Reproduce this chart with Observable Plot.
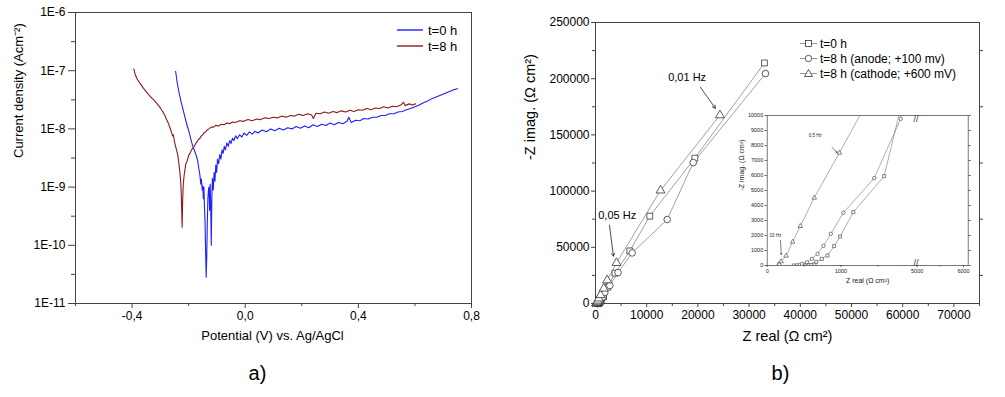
<!DOCTYPE html>
<html><head><meta charset="utf-8">
<script src="https://cdn.jsdelivr.net/npm/d3@7"></script>
<script src="https://cdn.jsdelivr.net/npm/@observablehq/plot@0.6"></script>
<style>
body{margin:0;background:#fff;font-family:"Liberation Sans",Arial,sans-serif;}
#wrap{position:relative;width:1005px;height:397px;overflow:hidden;background:#fff;}
.leg{position:absolute;font-family:"Liberation Sans",Arial,sans-serif;color:#000;}
.leg .row{display:flex;align-items:center;white-space:nowrap;}
</style></head><body><div id="wrap"></div>
<script>
// ---------- Panel a: polarization curves ----------
const seriesA = ["t=0 h", "t=8 h"];
const colorsA = ["#1f1fff", "#8b1a1a"];
const potentialT0 = [-0.246,-0.240,-0.233,-0.226,-0.219,-0.212,-0.205,-0.198,-0.191,-0.185,-0.179,-0.173,-0.168,-0.164,-0.160,-0.157,-0.155,-0.152,-0.150,-0.148,-0.146,-0.144,-0.142,-0.140,-0.138,-0.136,-0.134,-0.132,-0.130,-0.128,-0.126,-0.124,-0.122,-0.120,-0.118,-0.116,-0.113,-0.110,-0.107,-0.104,-0.101,-0.098,-0.094,-0.090,-0.086,-0.082,-0.078,-0.074,-0.070,-0.065,-0.060,-0.055,-0.050,-0.045,-0.040,-0.034,-0.028,-0.020,-0.012,-0.004,0.005,0.015,0.025,0.035,0.045,0.06,0.075,0.09,0.105,0.12,0.135,0.15,0.165,0.18,0.195,0.21,0.225,0.24,0.255,0.27,0.285,0.30,0.315,0.33,0.345,0.36,0.366,0.375,0.39,0.405,0.42,0.435,0.45,0.465,0.48,0.495,0.51,0.525,0.54,0.555,0.57,0.585,0.60,0.615,0.63,0.645,0.66,0.675,0.69,0.705,0.72,0.735,0.751];
const logCurrentT0 = [-7.01,-7.22,-7.40,-7.55,-7.68,-7.82,-7.95,-8.06,-8.20,-8.30,-8.38,-8.46,-8.55,-8.68,-8.80,-8.95,-8.86,-9.05,-8.98,-9.20,-9.00,-9.35,-9.60,-10.1,-10.55,-10.2,-9.6,-9.2,-9.05,-9.0,-9.4,-8.95,-9.3,-10.0,-9.2,-8.85,-9.05,-8.75,-8.9,-8.62,-8.75,-8.52,-8.6,-8.44,-8.52,-8.36,-8.42,-8.30,-8.36,-8.24,-8.30,-8.20,-8.25,-8.16,-8.20,-8.12,-8.17,-8.10,-8.14,-8.07,-8.11,-8.05,-8.09,-8.04,-8.07,-8.02,-8.05,-8.00,-8.03,-7.99,-8.02,-7.98,-8.00,-7.96,-7.99,-7.95,-7.98,-7.93,-7.96,-7.92,-7.94,-7.90,-7.93,-7.89,-7.91,-7.87,-7.80,-7.89,-7.85,-7.86,-7.82,-7.83,-7.80,-7.80,-7.77,-7.77,-7.74,-7.74,-7.71,-7.70,-7.67,-7.65,-7.62,-7.59,-7.55,-7.52,-7.48,-7.45,-7.42,-7.39,-7.36,-7.33,-7.31];
const potentialT8 = [-0.394,-0.388,-0.380,-0.370,-0.360,-0.350,-0.340,-0.330,-0.320,-0.310,-0.300,-0.292,-0.285,-0.278,-0.272,-0.266,-0.261,-0.257,-0.254,-0.250,-0.246,-0.242,-0.238,-0.235,-0.232,-0.229,-0.227,-0.225,-0.223,-0.221,-0.219,-0.216,-0.213,-0.210,-0.205,-0.200,-0.195,-0.190,-0.185,-0.180,-0.175,-0.170,-0.165,-0.160,-0.155,-0.150,-0.145,-0.140,-0.135,-0.128,-0.120,-0.112,-0.104,-0.095,-0.085,-0.075,-0.065,-0.055,-0.045,-0.035,-0.020,-0.005,0.010,0.025,0.040,0.055,0.070,0.085,0.10,0.115,0.13,0.145,0.16,0.175,0.19,0.205,0.22,0.235,0.241,0.25,0.265,0.28,0.295,0.31,0.325,0.34,0.355,0.37,0.385,0.40,0.415,0.43,0.445,0.46,0.475,0.49,0.505,0.52,0.535,0.55,0.56,0.565,0.58,0.59,0.602];
const logCurrentT8 = [-6.97,-7.08,-7.16,-7.23,-7.30,-7.36,-7.42,-7.47,-7.52,-7.58,-7.64,-7.70,-7.76,-7.84,-7.90,-7.98,-8.05,-8.12,-8.10,-8.22,-8.30,-8.38,-8.46,-8.58,-8.70,-8.85,-9.0,-9.3,-9.69,-9.2,-8.95,-8.80,-8.70,-8.60,-8.55,-8.45,-8.42,-8.36,-8.33,-8.30,-8.25,-8.22,-8.18,-8.16,-8.12,-8.10,-8.06,-8.05,-8.02,-8.00,-7.97,-7.97,-7.94,-7.95,-7.92,-7.93,-7.90,-7.91,-7.88,-7.89,-7.86,-7.87,-7.84,-7.86,-7.83,-7.84,-7.81,-7.82,-7.80,-7.81,-7.78,-7.80,-7.77,-7.78,-7.75,-7.77,-7.74,-7.76,-7.82,-7.73,-7.74,-7.71,-7.73,-7.70,-7.72,-7.69,-7.71,-7.68,-7.70,-7.67,-7.68,-7.65,-7.67,-7.64,-7.65,-7.62,-7.64,-7.61,-7.62,-7.59,-7.54,-7.60,-7.57,-7.59,-7.57];
const xTicksA = [-0.4, 0, 0.4, 0.8];
const xMinorA = [-0.6, -0.2, 0.2, 0.6];
const yTicksA = [1e-11, 1e-10, 1e-9, 1e-8, 1e-7, 1e-6];
const yMinorA = [3.16e-11, 3.16e-10, 3.16e-9, 3.16e-8, 3.16e-7];
const xTitleA = "Potential (V) vs. Ag/AgCl";
const yTitleA = "Current density (Acm⁻²)";

// ---------- Panel b: Nyquist plots ----------
const seriesB = ["t=0 h", "t=8 h (anode; +100 mv)", "t=8 h (cathode; +600 mV)"];
const symbolsB = ["square", "circle", "triangle"];
const zRealT0 = [520,560,600,640,664,740,816,906,987,1166,1583,2400,3800,6700,10600,19400,33000];
const zImagT0 = [15,25,40,80,244,444,667,1289,1933,3556,5956,14500,27000,46800,77700,129300,214000];
const zRealAnode = [360,400,440,471,538,605,682,762,861,1031,1448,1807,2800,4400,7160,14000,19100,33200];
const zImagAnode = [10,20,40,111,222,444,778,1311,2111,3511,5822,9778,16000,27500,45000,74700,125400,204600];
const zRealCathode = [150,165,188,256,345,448,637,978,1620,2280,4100,12700,24300];
const zImagCathode = [20,80,267,644,1578,2622,4511,7511,13300,20700,36100,100600,167500];
const xTicksB = [0,10000,20000,30000,40000,50000,60000,70000];
const xMinorB = [5000,15000,25000,35000,45000,55000,65000,75000];
const yTicksB = [0,50000,100000,150000,200000,250000];
const yMinorB = [25000,75000,125000,175000,225000];
const notesB = [
  {label: "0,01 Hz", x: 17900, y: 201000, x1: 20500, y1: 192400, x2: 23400, y2: 173700, dash: "none"},
  {label: "0,05 Hz", x: 4240, y: 78600, x1: 2730, y1: 69700, x2: 3500, y2: 42100, dash: "3,2"}
];
const xTitleB = "Z real (Ω cm²)";
const yTitleB = "-Z imag. (Ω cm²)";
// inset (broken x axis: 0–2000 | 5000–6100)
const insetBreakFrom = 2000, insetBreakTo = 5000, insetXMax = 6100;
const insetXTicks = [0, 1000, 5000, 6000];
const insetXMinor = [500, 1500, 5500];
const insetYTicks = [0,1000,2000,3000,4000,5000,6000,7000,8000,9000,10000];
const insetBreakMark = [3500];
const notesInset = [
  {label: "0,5 Hz", x: 650, y: 8667, x1: 880, y1: 7870, x2: 945, y2: 7530},
  {label: "10 Hz", x: 112, y: 2000, x1: 180, y1: 1670, x2: 190, y2: 730}
];

const FONT = "Liberation Sans, Arial, sans-serif";
const wrap = document.getElementById("wrap");
function place(el, left, top) {
  el.style.position = "absolute"; el.style.left = left + "px"; el.style.top = top + "px";
  wrap.appendChild(el);
}
const fmtA = d => (d < 0 ? "-" : "") + Math.abs(d).toFixed(1).replace(".", ",");

const dataA = [
  ...potentialT0.map((e, i) => ({E: e, I: 10 ** logCurrentT0[i], s: seriesA[0]})),
  ...potentialT8.map((e, i) => ({E: e, I: 10 ** logCurrentT8[i], s: seriesA[1]}))
];

const chartA = Plot.plot({
  width: 505, height: 397, marginTop: 12, marginLeft: 75, marginRight: 34, marginBottom: 94,
  style: {fontFamily: FONT, fontSize: "12px", background: "transparent", color: "#000", overflow: "visible"},
  x: {domain: [-0.6, 0.8]},
  y: {type: "log", domain: [1e-11, 1e-6]},
  color: {domain: seriesA, range: colorsA},
  marks: [
    Plot.frame({stroke: "#444"}),
    Plot.axisX({ticks: xTicksA, tickSize: 5, tickPadding: 3, tickFormat: fmtA, label: null, stroke: "#444"}),
    Plot.axisX({ticks: xMinorA, tickSize: 3, tickFormat: () => "", label: null, stroke: "#444"}),
    Plot.axisY({ticks: yTicksA, tickSize: 7, tickPadding: 3, tickFormat: d => "1E" + Math.round(Math.log10(d)), label: null, stroke: "#444"}),
    Plot.axisY({ticks: yMinorA, tickSize: 4, tickFormat: () => "", label: null, stroke: "#444"}),
    Plot.line(dataA, {x: "E", y: "I", z: "s", stroke: "s", strokeWidth: 1.1}),
    Plot.text([xTitleA], {frameAnchor: "bottom", dy: 36, dx: -1, fontSize: 13}),
    Plot.text([yTitleA], {frameAnchor: "left", dx: -57, rotate: -90, fontSize: 13}),
    Plot.text(["a)"], {frameAnchor: "bottom", dy: 76, dx: -16, fontSize: 20})
  ]
});
place(chartA, 0, 0);

const dataB = [
  ...zRealT0.map((x, i) => ({x, y: zImagT0[i], s: seriesB[0]})),
  ...zRealAnode.map((x, i) => ({x, y: zImagAnode[i], s: seriesB[1]})),
  ...zRealCathode.map((x, i) => ({x, y: zImagCathode[i], s: seriesB[2]}))
];

const chartB = Plot.plot({
  width: 505, height: 397, marginTop: 22, marginLeft: 95, marginRight: 26, marginBottom: 94,
  style: {fontFamily: FONT, fontSize: "12px", background: "transparent", color: "#000", overflow: "visible"},
  x: {domain: [0, 75000]},
  y: {domain: [0, 250000]},
  symbol: {domain: seriesB, range: symbolsB},
  marks: [
    Plot.frame({stroke: "#444"}),
    Plot.axisX({ticks: xTicksB, tickSize: 4, tickPadding: 3, tickFormat: d => String(d), label: null, stroke: "#444"}),
    Plot.axisX({ticks: xMinorB, tickSize: 3, tickFormat: () => "", label: null, stroke: "#444"}),
    Plot.axisY({ticks: yTicksB, tickSize: 4, tickPadding: 2, tickFormat: d => String(d), label: null, stroke: "#444"}),
    Plot.axisY({ticks: yMinorB, tickSize: 3, tickFormat: () => "", label: null, stroke: "#444"}),
    Plot.axisY({anchor: "right", ticks: yMinorB, tickSize: 3, tickFormat: () => "", label: null, stroke: "#444"}),
    Plot.line(dataB, {x: "x", y: "y", z: "s", stroke: "#777", strokeWidth: 0.7}),
    Plot.dot(dataB, {x: "x", y: "y", symbol: "s", r: 3.3, stroke: "#333", fill: "white", strokeWidth: 0.8}),
    Plot.arrow(notesB, {x1: "x1", y1: "y1", x2: "x2", y2: "y2", stroke: "#222", strokeWidth: 0.8, headLength: 6, strokeDasharray: "dash"}),
    Plot.text(notesB, {x: "x", y: "y", text: "label", fontSize: 11}),
    Plot.text([xTitleB], {frameAnchor: "bottom", dy: 37, fontSize: 14.5}),
    Plot.text([yTitleB], {frameAnchor: "left", dx: -65, dy: -3, rotate: -90, fontSize: 14.5}),
    Plot.text(["b)"], {frameAnchor: "bottom", dy: 76, dx: -7, fontSize: 20})
  ]
});
place(chartB, 500, 0);

// broken-axis mapping for the inset's x axis (0–2000 kept, 5000–6100 compressed)
const rightFactor = 0.6285, gapUnits = 30;
const brk = v => v <= insetBreakFrom ? v
  : v >= insetBreakTo ? insetBreakFrom + gapUnits + (v - insetBreakTo) * rightFactor
  : insetBreakFrom + (v - insetBreakFrom) / (insetBreakTo - insetBreakFrom) * gapUnits;
const unbrk = u => u <= insetBreakFrom ? u
  : u >= insetBreakFrom + gapUnits ? insetBreakTo + (u - insetBreakFrom - gapUnits) / rightFactor
  : insetBreakFrom + (u - insetBreakFrom) / gapUnits * (insetBreakTo - insetBreakFrom);

const inset = Plot.plot({
  width: 245, height: 190, marginTop: 10, marginLeft: 36.7, marginRight: 7.3, marginBottom: 30,
  style: {fontFamily: FONT, fontSize: "5.5px", background: "transparent", color: "#222", overflow: "visible"},
  x: {domain: [0, brk(insetXMax)]},
  y: {domain: [0, 10000]},
  symbol: {domain: seriesB, range: symbolsB},
  marks: [
    Plot.frame({fill: "white", stroke: "#555", strokeWidth: 0.8}),
    Plot.axisX({ticks: insetXTicks.map(brk), tickSize: 2, tickPadding: 2, tickFormat: d => String(Math.round(unbrk(d))), label: null, stroke: "#555"}),
    Plot.axisX({ticks: insetXMinor.map(brk), tickSize: 1.5, tickFormat: () => "", label: null, stroke: "#555"}),
    Plot.axisY({ticks: insetYTicks, tickSize: 2, tickPadding: 2, tickFormat: d => String(d), label: null, stroke: "#555"}),
    Plot.axisY({anchor: "right", ticks: insetYTicks, tickSize: 2, tickFormat: () => "", label: null, stroke: "#555"}),
    Plot.line(dataB, {x: d => brk(d.x), y: "y", z: "s", stroke: "#777", strokeWidth: 0.6, clip: true}),
    Plot.dot(dataB, {x: d => brk(d.x), y: "y", symbol: "s", r: 1.7, stroke: "#333", fill: "white", strokeWidth: 0.6, clip: true}),
    Plot.arrow(notesInset, {x1: d => brk(d.x1), y1: "y1", x2: d => brk(d.x2), y2: "y2", stroke: "#222", strokeWidth: 0.6, headLength: 3}),
    Plot.text(notesInset, {x: d => brk(d.x), y: "y", text: "label", fontSize: 4.5}),
    Plot.text(insetBreakMark, {x: d => brk(d), text: () => "//", frameAnchor: "top", fontSize: 9, fill: "#333"}),
    Plot.text(insetBreakMark, {x: d => brk(d), text: () => "//", frameAnchor: "bottom", fontSize: 9, fill: "#333"}),
    Plot.text([xTitleB], {frameAnchor: "bottom", dy: 17, fontSize: 7}),
    Plot.text([yTitleB], {frameAnchor: "left", dx: -25, rotate: -90, fontSize: 7})
  ]
});
place(inset, 730, 105);

// ---------- legends ----------
function legendA() {
  const d = document.createElement("div");
  d.className = "leg"; d.style.fontSize = "13px";
  seriesA.forEach((s, i) => {
    const r = document.createElement("div"); r.className = "row"; r.style.height = "16px";
    r.innerHTML = `<svg width="31" height="10"><line x1="0" x2="26" y1="5" y2="5" stroke="${colorsA[i]}" stroke-width="1.4"/></svg><span>${s}</span>`;
    d.appendChild(r);
  });
  return d;
}
place(legendA(), 397, 22);

function symbolSvg(sym) {
  if (sym === "square") return `<rect x="5.5" y="2.5" width="6" height="6" fill="white" stroke="#333" stroke-width="0.8"/>`;
  if (sym === "circle") return `<circle cx="8.5" cy="5.5" r="3.2" fill="white" stroke="#333" stroke-width="0.8"/>`;
  return `<path d="M8.5,1.5 L12.5,8.5 L4.5,8.5 Z" fill="white" stroke="#333" stroke-width="0.8"/>`;
}
function legendB() {
  const d = document.createElement("div");
  d.className = "leg"; d.style.fontSize = "12px";
  seriesB.forEach((s, i) => {
    const r = document.createElement("div"); r.className = "row"; r.style.height = "15px";
    r.innerHTML = `<svg width="20" height="11"><line x1="0" x2="17" y1="5.5" y2="5.5" stroke="#777" stroke-width="0.8"/>${symbolSvg(symbolsB[i])}</svg><span>${s}</span>`;
    d.appendChild(r);
  });
  return d;
}
place(legendB(), 800, 36);
</script>
</body></html>
